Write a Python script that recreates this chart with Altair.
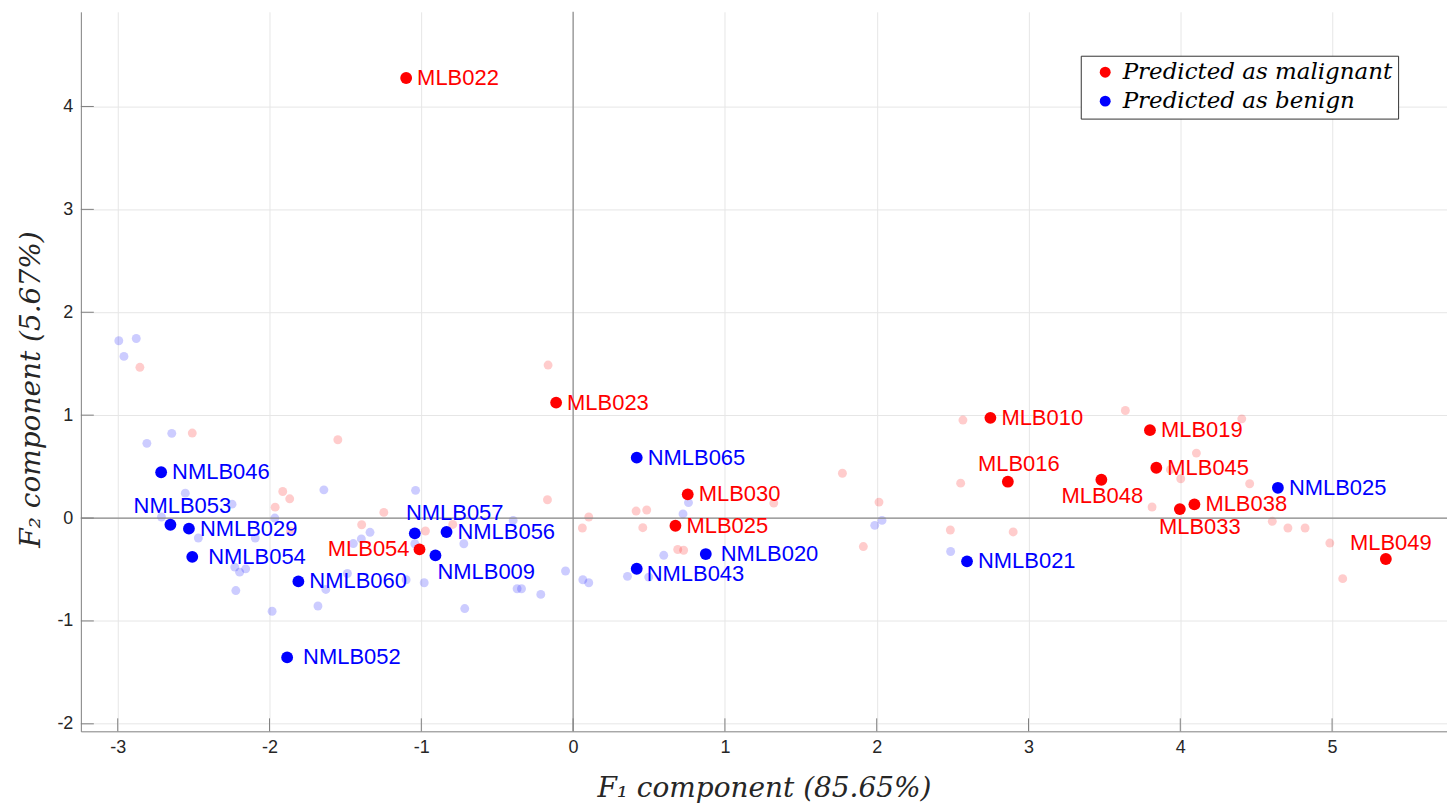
import altair as alt
import pandas as pd

# ---- highlighted samples ----
mal_names = ["MLB022", "MLB023", "MLB010", "MLB019", "MLB016", "MLB045", "MLB048",
             "MLB038", "MLB033", "MLB049", "MLB030", "MLB025", "MLB054"]
mal_x = [-1.100, -0.112, 2.749, 3.800, 2.864, 3.842, 3.480, 4.093, 3.997, 5.354, 0.755, 0.674, -1.012]
mal_y = [4.277, 1.122, 0.974, 0.854, 0.353, 0.489, 0.372, 0.133, 0.087, -0.398, 0.230, -0.075, -0.305]

ben_names = ["NMLB025", "NMLB021", "NMLB065", "NMLB020", "NMLB043", "NMLB057", "NMLB056",
             "NMLB009", "NMLB060", "NMLB052", "NMLB046", "NMLB053", "NMLB029", "NMLB054"]
ben_x = [4.643, 2.595, 0.419, 0.874, 0.419, -1.043, -0.834, -0.907, -1.810, -1.884, -2.714, -2.653, -2.531, -2.509]
ben_y = [0.294, -0.421, 0.587, -0.350, -0.493, -0.149, -0.136, -0.363, -0.616, -1.355, 0.445, -0.065, -0.103, -0.377]

# ---- faded (background) samples ----
fmal_x = [-2.854, -2.509, -1.550, -1.913, -1.867, -1.963, -1.247, -1.393, -1.862, -0.973,
          -0.793, -0.165, -0.169, 0.103, 0.061, 0.415, 0.485, 0.459, 0.689, 0.728,
          1.322, 1.774, 2.015, 1.912, 2.568, 2.553, 2.485, 2.899, 3.638, 4.405,
          4.106, 3.935, 4.003, 4.457, 3.814, 4.606, 4.709, 4.822, 4.985, 5.070]
fmal_y = [1.465, 0.826, 0.761, 0.258, 0.187, 0.106, 0.055, -0.065, -0.129, -0.126,
          -0.062, 1.487, 0.178, 0.010, -0.097, 0.068, 0.078, -0.094, -0.306, -0.313,
          0.145, 0.435, 0.155, -0.277, 0.952, 0.339, -0.116, -0.135, 1.045, 0.964,
          0.631, 0.470, 0.382, 0.333, 0.107, -0.032, -0.097, -0.097, -0.243, -0.589]

fben_x = [-2.993, -2.878, -2.959, -2.644, -2.808, -2.555, -1.642, -2.247, -2.712, -1.965,
          -1.338, -2.094, -2.469, -1.448, -1.395, -1.487, -1.629, -1.681, -1.983, -2.229,
          -2.197, -2.157, -2.222, -1.038, -1.043, -1.100, -0.981, -0.720, -0.714, -0.395,
          -0.050, 0.064, 0.103, -0.213, -0.369, -0.340, 0.358, 0.498, 0.597, 0.724,
          0.760, 1.987, 2.035, 2.487]
fben_y = [1.723, 1.745, 1.571, 0.823, 0.726, 0.242, 0.274, 0.135, 0.010, 0.000,
          -0.139, -0.194, -0.194, -0.248, -0.203, -0.539, -0.694, -0.855, -0.906, -0.477,
          -0.526, -0.494, -0.705, 0.269, -0.250, -0.600, -0.629, -0.250, -0.880, -0.023,
          -0.515, -0.600, -0.629, -0.742, -0.687, -0.687, -0.567, -0.574, -0.362, 0.040,
          0.150, -0.071, -0.023, -0.325]

x_ticks = [-3, -2, -1, 0, 1, 2, 3, 4, 5]
y_ticks = [-2, -1, 0, 1, 2, 3, 4]

MAL = "Predicted as malignant"
BEN = "Predicted as benign"

hl = pd.DataFrame({
    "name": mal_names + ben_names,
    "x": mal_x + ben_x,
    "y": mal_y + ben_y,
    "group": [MAL] * len(mal_names) + [BEN] * len(ben_names),
})
bg = pd.DataFrame({
    "x": fmal_x + fben_x,
    "y": fmal_y + fben_y,
    "group": [MAL] * len(fmal_x) + [BEN] * len(fben_x),
})

# label placement (align, dx, dy) in pixels; default to the right of the point
default_place = ("left", 11, 0)
label_place = {
    "MLB016": ("center", 11, -18),
    "MLB048": ("center", 1, 16),
    "MLB033": ("center", 20, 18),
    "MLB049": ("center", 5, -16),
    "NMLB053": ("center", 12, -19),
    "NMLB057": ("center", 40, -20),
    "MLB054": ("right", -10, 0),
    "NMLB009": ("left", 2, 17),
    "NMLB043": ("left", 10, 5),
    "NMLB054": ("left", 16, 0),
    "NMLB052": ("left", 16, 0),
    "NMLB020": ("left", 15, 0),
}

W, H = 1369, 721
xscale = alt.Scale(domain=[-3.243, 5.757], nice=False, zero=False)
yscale = alt.Scale(domain=[-2.073, 4.92], nice=False, zero=False)

AX_GRAY = "#7f7f7f"
is_mal = alt.datum.group == MAL
cond_color = alt.condition(is_mal, alt.value("#ff0000"), alt.value("#0000ff"))

x_axis = alt.Axis(values=x_ticks, grid=True, gridColor="#e6e6e6", gridWidth=1,
                  domainColor=AX_GRAY, domainWidth=1, ticks=False,
                  labelFont="Liberation Sans", labelFontSize=18, labelColor="#262626",
                  labelPadding=7, labelExpr="'' + datum.value",
                  title="F\u2081 component (85.65%)", titleFont="DejaVu Serif",
                  titleFontStyle="italic", titleFontWeight="normal", titleFontSize=28,
                  titleColor="#262626", titlePadding=18)
y_axis = alt.Axis(values=y_ticks, grid=True, gridColor="#e6e6e6", gridWidth=1,
                  domainColor=AX_GRAY, domainWidth=1, ticks=False,
                  labelFont="Liberation Sans", labelFontSize=18, labelColor="#262626",
                  labelPadding=8, labelExpr="'' + datum.value",
                  title="F\u2082 component (5.67%)", titleFont="DejaVu Serif",
                  titleFontStyle="italic", titleFontWeight="normal", titleFontSize=28,
                  titleColor="#262626", titlePadding=11, titleY=378)


def X(field):
    return alt.X(field, scale=xscale, axis=x_axis)


def Y(field):
    return alt.Y(field, scale=yscale, axis=y_axis)


background = alt.Chart(bg).mark_circle(size=80, opacity=0.2).encode(
    x=X("x:Q"), y=Y("y:Q"), color=cond_color,
)

zx = alt.Chart(pd.DataFrame({"x": [0]})).mark_rule(color="#8a8a8a", strokeWidth=1.2).encode(
    x=X("x:Q"))
zy = alt.Chart(pd.DataFrame({"y": [0]})).mark_rule(color="#8a8a8a", strokeWidth=1.2).encode(
    y=Y("y:Q"))

xt = alt.Chart(pd.DataFrame({"x": x_ticks})).mark_rule(color=AX_GRAY, strokeWidth=1).encode(
    x=X("x:Q"), y=alt.value(H), y2=alt.value(H - 13))
yt = alt.Chart(pd.DataFrame({"y": y_ticks})).mark_rule(color=AX_GRAY, strokeWidth=1).encode(
    y=Y("y:Q"), x=alt.value(0), x2=alt.value(13))

points = alt.Chart(hl).mark_circle(size=140, opacity=1).encode(
    x=X("x:Q"), y=Y("y:Q"),
    color=alt.Color("group:N",
                    scale=alt.Scale(domain=[MAL, BEN], range=["#ff0000", "#0000ff"]),
                    legend=alt.Legend(orient="none", legendX=1002, legendY=44, title=None,
                                      labelFont="DejaVu Serif", labelFontStyle="italic",
                                      labelFontSize=23, labelColor="black", labelOffset=6,
                                      labelLimit=0,
                                      symbolType="circle", symbolSize=120, symbolOffset=8,
                                      symbolOpacity=1, symbolStrokeWidth=0,
                                      strokeColor="#333333", fillColor="white",
                                      padding=5, rowPadding=5)),
)

# group labels by placement
groups = {}
for n in hl["name"]:
    groups.setdefault(label_place.get(n, default_place), []).append(n)

text_layers = []
for (align, dx, dy), names in groups.items():
    sub = hl[hl["name"].isin(names)]
    text_layers.append(
        alt.Chart(sub).mark_text(align=align, baseline="middle", dx=dx, dy=dy,
                                 font="Liberation Sans", fontSize=22).encode(
            x=X("x:Q"), y=Y("y:Q"), text="name:N", color=cond_color,
        )
    )

chart = alt.layer(background, zx, zy, xt, yt, points, *text_layers).properties(
    width=W, height=H,
    autosize=alt.AutoSizeParams(type="none"),
    padding={"left": 73, "top": 3, "right": 0, "bottom": 74},
).configure_view(stroke=None)

chart.save("out.html", embed_options={"renderer": "svg", "actions": False})
